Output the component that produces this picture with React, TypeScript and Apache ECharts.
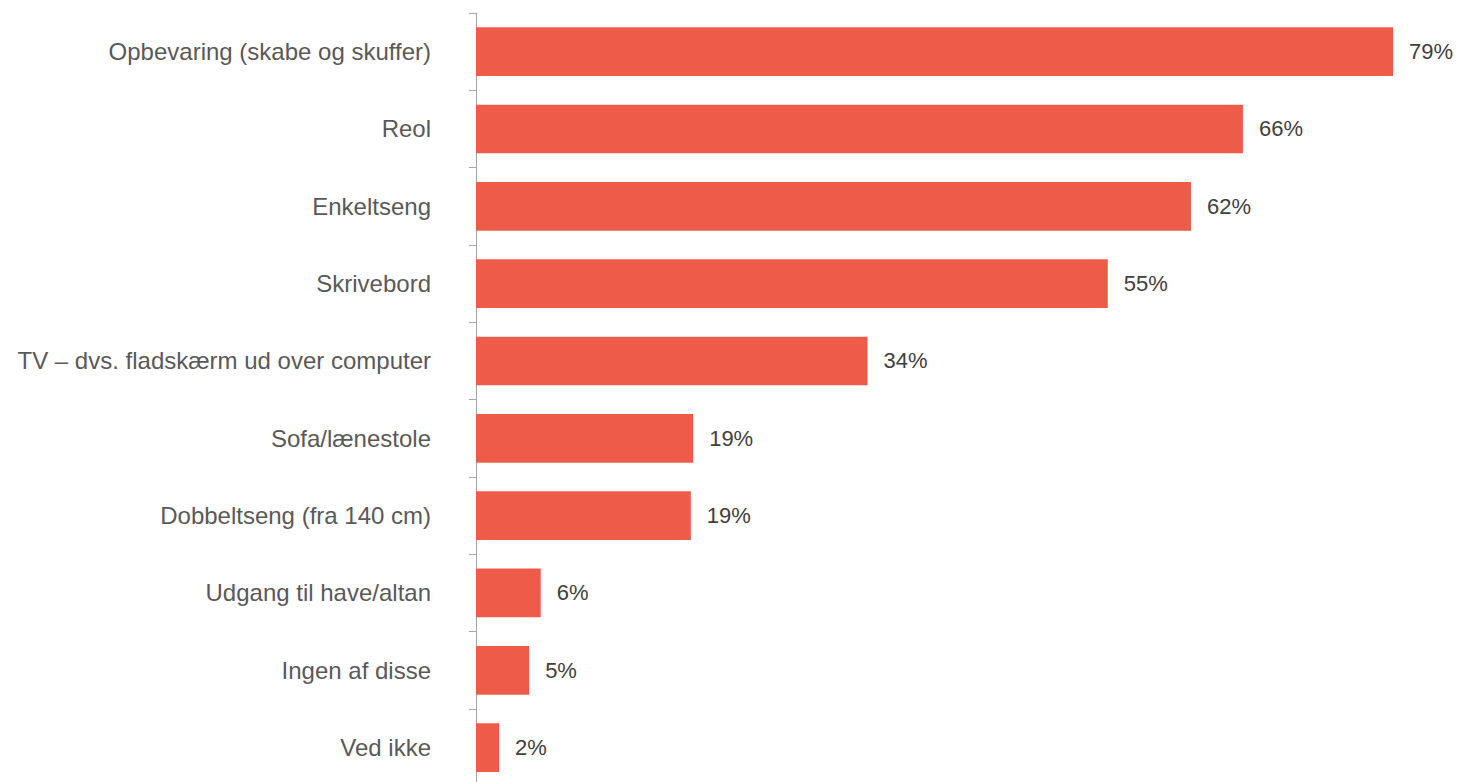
import React, { useEffect, useRef } from "react";
import * as echarts from "echarts";

const categories: string[] = [
  "Opbevaring (skabe og skuffer)",
  "Reol",
  "Enkeltseng",
  "Skrivebord",
  "TV – dvs. fladskærm ud over computer",
  "Sofa/lænestole",
  "Dobbeltseng (fra 140 cm)",
  "Udgang til have/altan",
  "Ingen af disse",
  "Ved ikke",
];

const values: number[] = [79.4, 66.4, 61.9, 54.7, 33.9, 18.8, 18.6, 5.6, 4.6, 2.0];

const FONT = "'Liberation Sans', Arial, Helvetica, sans-serif";

export default function App() {
  const ref = useRef<HTMLDivElement>(null);

  useEffect(() => {
    if (!ref.current) return;
    const chart = echarts.init(ref.current, null, { renderer: "svg" });
    chart.setOption({
      animation: false,
      grid: { left: 476, top: 13, height: 773.3, width: 970.2 },
      xAxis: {
        type: "value",
        min: 0,
        max: 84,
        show: false,
      },
      yAxis: {
        type: "category",
        data: categories,
        inverse: true,
        axisLine: { show: true, lineStyle: { color: "#A6A6A6", width: 1 } },
        axisTick: { show: true, length: 7, lineStyle: { color: "#A6A6A6" } },
        axisLabel: {
          margin: 45,
          color: "#595959",
          fontSize: 24,
          fontFamily: FONT,
        },
        splitLine: { show: false },
      },
      series: [
        {
          type: "bar",
          data: values,
          barCategoryGap: "37%",
          itemStyle: { color: "#EE5B48" },
          label: {
            show: true,
            position: "right",
            distance: 16,
            color: "#404040",
            fontSize: 22,
            fontFamily: FONT,
            formatter: (p: any) => Math.round(p.value) + "%",
          },
        },
      ],
    });
    return () => chart.dispose();
  }, []);

  return (
    <div
      style={{
        position: "absolute",
        left: 0,
        top: 0,
        width: 1457,
        height: 782,
        overflow: "hidden",
      }}
    >
      <div ref={ref} style={{ width: 1457, height: 800 }} />
    </div>
  );
}
